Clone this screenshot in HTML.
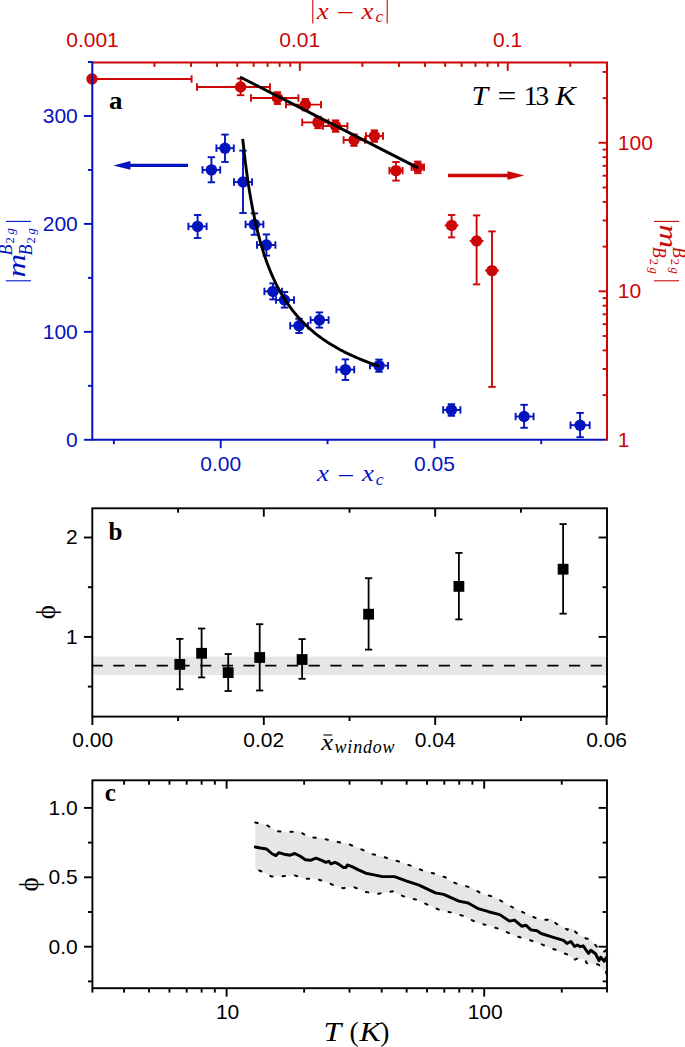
<!DOCTYPE html>
<html lang="en">
<head>
<meta charset="utf-8">
<title>Figure: m_B2g vs x - x_c, phi vs window, phi vs T</title>
<style>
html,body{margin:0;padding:0;background:#fff;}
body{width:685px;height:1047px;overflow:hidden;}
svg{display:block;}
text{white-space:pre;}
</style>
</head>
<body>
<svg width="685" height="1047" viewBox="0 0 685 1047">
<rect x="0" y="0" width="685" height="1047" fill="#fff"/>
<g id="panel-a">
<line x1="92" y1="79" x2="191.6" y2="79" stroke="#CC0606" stroke-width="1.9"/>
<line x1="92" y1="75.3" x2="92" y2="82.7" stroke="#CC0606" stroke-width="1.9"/>
<line x1="191.6" y1="75.3" x2="191.6" y2="82.7" stroke="#CC0606" stroke-width="1.9"/>
<circle cx="92" cy="79" r="5.7" fill="#CC0606"/>
<line x1="197" y1="87" x2="270" y2="87" stroke="#CC0606" stroke-width="1.9"/>
<line x1="197" y1="83.3" x2="197" y2="90.7" stroke="#CC0606" stroke-width="1.9"/>
<line x1="270" y1="83.3" x2="270" y2="90.7" stroke="#CC0606" stroke-width="1.9"/>
<line x1="240.6" y1="78.6" x2="240.6" y2="95.2" stroke="#CC0606" stroke-width="1.9"/>
<line x1="236.9" y1="78.6" x2="244.3" y2="78.6" stroke="#CC0606" stroke-width="1.9"/>
<line x1="236.9" y1="95.2" x2="244.3" y2="95.2" stroke="#CC0606" stroke-width="1.9"/>
<circle cx="240.6" cy="87" r="5.7" fill="#CC0606"/>
<line x1="251" y1="98" x2="298.4" y2="98" stroke="#CC0606" stroke-width="1.9"/>
<line x1="251" y1="94.3" x2="251" y2="101.7" stroke="#CC0606" stroke-width="1.9"/>
<line x1="298.4" y1="94.3" x2="298.4" y2="101.7" stroke="#CC0606" stroke-width="1.9"/>
<line x1="277.4" y1="92.2" x2="277.4" y2="104" stroke="#CC0606" stroke-width="1.9"/>
<line x1="273.7" y1="92.2" x2="281.1" y2="92.2" stroke="#CC0606" stroke-width="1.9"/>
<line x1="273.7" y1="104" x2="281.1" y2="104" stroke="#CC0606" stroke-width="1.9"/>
<circle cx="277.4" cy="98" r="5.7" fill="#CC0606"/>
<line x1="286" y1="104.6" x2="321" y2="104.6" stroke="#CC0606" stroke-width="1.9"/>
<line x1="286" y1="100.9" x2="286" y2="108.3" stroke="#CC0606" stroke-width="1.9"/>
<line x1="321" y1="100.9" x2="321" y2="108.3" stroke="#CC0606" stroke-width="1.9"/>
<line x1="305.4" y1="99" x2="305.4" y2="110.4" stroke="#CC0606" stroke-width="1.9"/>
<line x1="301.7" y1="99" x2="309.1" y2="99" stroke="#CC0606" stroke-width="1.9"/>
<line x1="301.7" y1="110.4" x2="309.1" y2="110.4" stroke="#CC0606" stroke-width="1.9"/>
<circle cx="305.4" cy="104.6" r="5.7" fill="#CC0606"/>
<line x1="302.2" y1="122.4" x2="328.4" y2="122.4" stroke="#CC0606" stroke-width="1.9"/>
<line x1="302.2" y1="118.7" x2="302.2" y2="126.1" stroke="#CC0606" stroke-width="1.9"/>
<line x1="328.4" y1="118.7" x2="328.4" y2="126.1" stroke="#CC0606" stroke-width="1.9"/>
<line x1="318" y1="116.8" x2="318" y2="128.2" stroke="#CC0606" stroke-width="1.9"/>
<line x1="314.3" y1="116.8" x2="321.7" y2="116.8" stroke="#CC0606" stroke-width="1.9"/>
<line x1="314.3" y1="128.2" x2="321.7" y2="128.2" stroke="#CC0606" stroke-width="1.9"/>
<circle cx="318" cy="122.4" r="5.7" fill="#CC0606"/>
<line x1="323" y1="126" x2="347.4" y2="126" stroke="#CC0606" stroke-width="1.9"/>
<line x1="323" y1="122.3" x2="323" y2="129.7" stroke="#CC0606" stroke-width="1.9"/>
<line x1="347.4" y1="122.3" x2="347.4" y2="129.7" stroke="#CC0606" stroke-width="1.9"/>
<line x1="335.6" y1="120.4" x2="335.6" y2="131.8" stroke="#CC0606" stroke-width="1.9"/>
<line x1="331.9" y1="120.4" x2="339.3" y2="120.4" stroke="#CC0606" stroke-width="1.9"/>
<line x1="331.9" y1="131.8" x2="339.3" y2="131.8" stroke="#CC0606" stroke-width="1.9"/>
<circle cx="335.6" cy="126" r="5.7" fill="#CC0606"/>
<line x1="343.6" y1="140" x2="365" y2="140" stroke="#CC0606" stroke-width="1.9"/>
<line x1="343.6" y1="136.3" x2="343.6" y2="143.7" stroke="#CC0606" stroke-width="1.9"/>
<line x1="365" y1="136.3" x2="365" y2="143.7" stroke="#CC0606" stroke-width="1.9"/>
<line x1="354" y1="134.4" x2="354" y2="145.8" stroke="#CC0606" stroke-width="1.9"/>
<line x1="350.3" y1="134.4" x2="357.7" y2="134.4" stroke="#CC0606" stroke-width="1.9"/>
<line x1="350.3" y1="145.8" x2="357.7" y2="145.8" stroke="#CC0606" stroke-width="1.9"/>
<circle cx="354" cy="140" r="5.7" fill="#CC0606"/>
<line x1="366" y1="136" x2="383" y2="136" stroke="#CC0606" stroke-width="1.9"/>
<line x1="366" y1="132.3" x2="366" y2="139.7" stroke="#CC0606" stroke-width="1.9"/>
<line x1="383" y1="132.3" x2="383" y2="139.7" stroke="#CC0606" stroke-width="1.9"/>
<line x1="374.4" y1="130.4" x2="374.4" y2="141.8" stroke="#CC0606" stroke-width="1.9"/>
<line x1="370.7" y1="130.4" x2="378.1" y2="130.4" stroke="#CC0606" stroke-width="1.9"/>
<line x1="370.7" y1="141.8" x2="378.1" y2="141.8" stroke="#CC0606" stroke-width="1.9"/>
<circle cx="374.4" cy="136" r="5.7" fill="#CC0606"/>
<line x1="389.4" y1="170.6" x2="402.6" y2="170.6" stroke="#CC0606" stroke-width="1.9"/>
<line x1="389.4" y1="166.9" x2="389.4" y2="174.3" stroke="#CC0606" stroke-width="1.9"/>
<line x1="402.6" y1="166.9" x2="402.6" y2="174.3" stroke="#CC0606" stroke-width="1.9"/>
<line x1="396" y1="162" x2="396" y2="180.6" stroke="#CC0606" stroke-width="1.9"/>
<line x1="392.3" y1="162" x2="399.7" y2="162" stroke="#CC0606" stroke-width="1.9"/>
<line x1="392.3" y1="180.6" x2="399.7" y2="180.6" stroke="#CC0606" stroke-width="1.9"/>
<circle cx="396" cy="170.6" r="5.7" fill="#CC0606"/>
<line x1="411.6" y1="167.3" x2="424" y2="167.3" stroke="#CC0606" stroke-width="1.9"/>
<line x1="411.6" y1="163.6" x2="411.6" y2="171" stroke="#CC0606" stroke-width="1.9"/>
<line x1="424" y1="163.6" x2="424" y2="171" stroke="#CC0606" stroke-width="1.9"/>
<line x1="417.8" y1="161.6" x2="417.8" y2="173.2" stroke="#CC0606" stroke-width="1.9"/>
<line x1="414.1" y1="161.6" x2="421.5" y2="161.6" stroke="#CC0606" stroke-width="1.9"/>
<line x1="414.1" y1="173.2" x2="421.5" y2="173.2" stroke="#CC0606" stroke-width="1.9"/>
<circle cx="417.8" cy="167.3" r="5.7" fill="#CC0606"/>
<line x1="444.7" y1="225.4" x2="458.5" y2="225.4" stroke="#CC0606" stroke-width="1.9"/>
<line x1="451.6" y1="215" x2="451.6" y2="237.4" stroke="#CC0606" stroke-width="1.9"/>
<line x1="447.9" y1="215" x2="455.3" y2="215" stroke="#CC0606" stroke-width="1.9"/>
<line x1="447.9" y1="237.4" x2="455.3" y2="237.4" stroke="#CC0606" stroke-width="1.9"/>
<circle cx="451.6" cy="225.4" r="5.7" fill="#CC0606"/>
<line x1="469.7" y1="241" x2="483.5" y2="241" stroke="#CC0606" stroke-width="1.9"/>
<line x1="476.6" y1="215.4" x2="476.6" y2="284.4" stroke="#CC0606" stroke-width="1.9"/>
<line x1="472.9" y1="215.4" x2="480.3" y2="215.4" stroke="#CC0606" stroke-width="1.9"/>
<line x1="472.9" y1="284.4" x2="480.3" y2="284.4" stroke="#CC0606" stroke-width="1.9"/>
<circle cx="476.6" cy="241" r="5.7" fill="#CC0606"/>
<line x1="485.1" y1="270.6" x2="498.9" y2="270.6" stroke="#CC0606" stroke-width="1.9"/>
<line x1="492" y1="231.4" x2="492" y2="386.9" stroke="#CC0606" stroke-width="1.9"/>
<line x1="488.3" y1="231.4" x2="495.7" y2="231.4" stroke="#CC0606" stroke-width="1.9"/>
<line x1="488.3" y1="386.9" x2="495.7" y2="386.9" stroke="#CC0606" stroke-width="1.9"/>
<circle cx="492" cy="270.6" r="5.7" fill="#CC0606"/>
<line x1="188.4" y1="226.4" x2="206.6" y2="226.4" stroke="#0314BE" stroke-width="1.9"/>
<line x1="188.4" y1="222.7" x2="188.4" y2="230.1" stroke="#0314BE" stroke-width="1.9"/>
<line x1="206.6" y1="222.7" x2="206.6" y2="230.1" stroke="#0314BE" stroke-width="1.9"/>
<line x1="197.6" y1="215" x2="197.6" y2="238" stroke="#0314BE" stroke-width="1.9"/>
<line x1="193.9" y1="215" x2="201.3" y2="215" stroke="#0314BE" stroke-width="1.9"/>
<line x1="193.9" y1="238" x2="201.3" y2="238" stroke="#0314BE" stroke-width="1.9"/>
<circle cx="197.6" cy="226.4" r="5.7" fill="#0314BE"/>
<line x1="202.5" y1="169.9" x2="220.2" y2="169.9" stroke="#0314BE" stroke-width="1.9"/>
<line x1="202.5" y1="166.2" x2="202.5" y2="173.6" stroke="#0314BE" stroke-width="1.9"/>
<line x1="220.2" y1="166.2" x2="220.2" y2="173.6" stroke="#0314BE" stroke-width="1.9"/>
<line x1="211.4" y1="157.2" x2="211.4" y2="182.3" stroke="#0314BE" stroke-width="1.9"/>
<line x1="207.7" y1="157.2" x2="215.1" y2="157.2" stroke="#0314BE" stroke-width="1.9"/>
<line x1="207.7" y1="182.3" x2="215.1" y2="182.3" stroke="#0314BE" stroke-width="1.9"/>
<circle cx="211.4" cy="169.9" r="5.7" fill="#0314BE"/>
<line x1="216.4" y1="148.2" x2="233.8" y2="148.2" stroke="#0314BE" stroke-width="1.9"/>
<line x1="216.4" y1="144.5" x2="216.4" y2="151.9" stroke="#0314BE" stroke-width="1.9"/>
<line x1="233.8" y1="144.5" x2="233.8" y2="151.9" stroke="#0314BE" stroke-width="1.9"/>
<line x1="225" y1="134.6" x2="225" y2="162" stroke="#0314BE" stroke-width="1.9"/>
<line x1="221.3" y1="134.6" x2="228.7" y2="134.6" stroke="#0314BE" stroke-width="1.9"/>
<line x1="221.3" y1="162" x2="228.7" y2="162" stroke="#0314BE" stroke-width="1.9"/>
<circle cx="225" cy="148.2" r="5.7" fill="#0314BE"/>
<line x1="234" y1="182" x2="252" y2="182" stroke="#0314BE" stroke-width="1.9"/>
<line x1="234" y1="178.3" x2="234" y2="185.7" stroke="#0314BE" stroke-width="1.9"/>
<line x1="252" y1="178.3" x2="252" y2="185.7" stroke="#0314BE" stroke-width="1.9"/>
<line x1="243" y1="150.6" x2="243" y2="213" stroke="#0314BE" stroke-width="1.9"/>
<line x1="239.3" y1="150.6" x2="246.7" y2="150.6" stroke="#0314BE" stroke-width="1.9"/>
<line x1="239.3" y1="213" x2="246.7" y2="213" stroke="#0314BE" stroke-width="1.9"/>
<circle cx="243" cy="182" r="5.7" fill="#0314BE"/>
<line x1="245.6" y1="224.4" x2="263.4" y2="224.4" stroke="#0314BE" stroke-width="1.9"/>
<line x1="245.6" y1="220.7" x2="245.6" y2="228.1" stroke="#0314BE" stroke-width="1.9"/>
<line x1="263.4" y1="220.7" x2="263.4" y2="228.1" stroke="#0314BE" stroke-width="1.9"/>
<line x1="254.4" y1="213.4" x2="254.4" y2="234.8" stroke="#0314BE" stroke-width="1.9"/>
<line x1="250.7" y1="213.4" x2="258.1" y2="213.4" stroke="#0314BE" stroke-width="1.9"/>
<line x1="250.7" y1="234.8" x2="258.1" y2="234.8" stroke="#0314BE" stroke-width="1.9"/>
<circle cx="254.4" cy="224.4" r="5.7" fill="#0314BE"/>
<line x1="257" y1="245" x2="275.4" y2="245" stroke="#0314BE" stroke-width="1.9"/>
<line x1="257" y1="241.3" x2="257" y2="248.7" stroke="#0314BE" stroke-width="1.9"/>
<line x1="275.4" y1="241.3" x2="275.4" y2="248.7" stroke="#0314BE" stroke-width="1.9"/>
<line x1="266.4" y1="234.4" x2="266.4" y2="255.6" stroke="#0314BE" stroke-width="1.9"/>
<line x1="262.7" y1="234.4" x2="270.1" y2="234.4" stroke="#0314BE" stroke-width="1.9"/>
<line x1="262.7" y1="255.6" x2="270.1" y2="255.6" stroke="#0314BE" stroke-width="1.9"/>
<circle cx="266.4" cy="245" r="5.7" fill="#0314BE"/>
<line x1="264.4" y1="291.4" x2="282" y2="291.4" stroke="#0314BE" stroke-width="1.9"/>
<line x1="264.4" y1="287.7" x2="264.4" y2="295.1" stroke="#0314BE" stroke-width="1.9"/>
<line x1="282" y1="287.7" x2="282" y2="295.1" stroke="#0314BE" stroke-width="1.9"/>
<line x1="273" y1="283.4" x2="273" y2="299.4" stroke="#0314BE" stroke-width="1.9"/>
<line x1="269.3" y1="283.4" x2="276.7" y2="283.4" stroke="#0314BE" stroke-width="1.9"/>
<line x1="269.3" y1="299.4" x2="276.7" y2="299.4" stroke="#0314BE" stroke-width="1.9"/>
<circle cx="273" cy="291.4" r="5.7" fill="#0314BE"/>
<line x1="276" y1="300" x2="294" y2="300" stroke="#0314BE" stroke-width="1.9"/>
<line x1="276" y1="296.3" x2="276" y2="303.7" stroke="#0314BE" stroke-width="1.9"/>
<line x1="294" y1="296.3" x2="294" y2="303.7" stroke="#0314BE" stroke-width="1.9"/>
<line x1="284.5" y1="292" x2="284.5" y2="307.6" stroke="#0314BE" stroke-width="1.9"/>
<line x1="280.8" y1="292" x2="288.2" y2="292" stroke="#0314BE" stroke-width="1.9"/>
<line x1="280.8" y1="307.6" x2="288.2" y2="307.6" stroke="#0314BE" stroke-width="1.9"/>
<circle cx="284.5" cy="300" r="5.7" fill="#0314BE"/>
<line x1="290.2" y1="325.7" x2="308" y2="325.7" stroke="#0314BE" stroke-width="1.9"/>
<line x1="290.2" y1="322" x2="290.2" y2="329.4" stroke="#0314BE" stroke-width="1.9"/>
<line x1="308" y1="322" x2="308" y2="329.4" stroke="#0314BE" stroke-width="1.9"/>
<line x1="299" y1="318.8" x2="299" y2="333" stroke="#0314BE" stroke-width="1.9"/>
<line x1="295.3" y1="318.8" x2="302.7" y2="318.8" stroke="#0314BE" stroke-width="1.9"/>
<line x1="295.3" y1="333" x2="302.7" y2="333" stroke="#0314BE" stroke-width="1.9"/>
<circle cx="299" cy="325.7" r="5.7" fill="#0314BE"/>
<line x1="310.6" y1="320" x2="328.6" y2="320" stroke="#0314BE" stroke-width="1.9"/>
<line x1="310.6" y1="316.3" x2="310.6" y2="323.7" stroke="#0314BE" stroke-width="1.9"/>
<line x1="328.6" y1="316.3" x2="328.6" y2="323.7" stroke="#0314BE" stroke-width="1.9"/>
<line x1="319.4" y1="312.4" x2="319.4" y2="327.6" stroke="#0314BE" stroke-width="1.9"/>
<line x1="315.7" y1="312.4" x2="323.1" y2="312.4" stroke="#0314BE" stroke-width="1.9"/>
<line x1="315.7" y1="327.6" x2="323.1" y2="327.6" stroke="#0314BE" stroke-width="1.9"/>
<circle cx="319.4" cy="320" r="5.7" fill="#0314BE"/>
<line x1="336.4" y1="369.6" x2="354.2" y2="369.6" stroke="#0314BE" stroke-width="1.9"/>
<line x1="336.4" y1="365.9" x2="336.4" y2="373.3" stroke="#0314BE" stroke-width="1.9"/>
<line x1="354.2" y1="365.9" x2="354.2" y2="373.3" stroke="#0314BE" stroke-width="1.9"/>
<line x1="345.4" y1="359.4" x2="345.4" y2="380" stroke="#0314BE" stroke-width="1.9"/>
<line x1="341.7" y1="359.4" x2="349.1" y2="359.4" stroke="#0314BE" stroke-width="1.9"/>
<line x1="341.7" y1="380" x2="349.1" y2="380" stroke="#0314BE" stroke-width="1.9"/>
<circle cx="345.4" cy="369.6" r="5.7" fill="#0314BE"/>
<line x1="370" y1="365.6" x2="388" y2="365.6" stroke="#0314BE" stroke-width="1.9"/>
<line x1="370" y1="361.9" x2="370" y2="369.3" stroke="#0314BE" stroke-width="1.9"/>
<line x1="388" y1="361.9" x2="388" y2="369.3" stroke="#0314BE" stroke-width="1.9"/>
<line x1="379" y1="359.6" x2="379" y2="371.8" stroke="#0314BE" stroke-width="1.9"/>
<line x1="375.3" y1="359.6" x2="382.7" y2="359.6" stroke="#0314BE" stroke-width="1.9"/>
<line x1="375.3" y1="371.8" x2="382.7" y2="371.8" stroke="#0314BE" stroke-width="1.9"/>
<circle cx="379" cy="365.6" r="5.7" fill="#0314BE"/>
<line x1="443.2" y1="409.9" x2="460.4" y2="409.9" stroke="#0314BE" stroke-width="1.9"/>
<line x1="443.2" y1="406.2" x2="443.2" y2="413.6" stroke="#0314BE" stroke-width="1.9"/>
<line x1="460.4" y1="406.2" x2="460.4" y2="413.6" stroke="#0314BE" stroke-width="1.9"/>
<line x1="451.4" y1="404.2" x2="451.4" y2="415.8" stroke="#0314BE" stroke-width="1.9"/>
<line x1="447.7" y1="404.2" x2="455.1" y2="404.2" stroke="#0314BE" stroke-width="1.9"/>
<line x1="447.7" y1="415.8" x2="455.1" y2="415.8" stroke="#0314BE" stroke-width="1.9"/>
<circle cx="451.4" cy="409.9" r="5.7" fill="#0314BE"/>
<line x1="515.6" y1="416.5" x2="533.6" y2="416.5" stroke="#0314BE" stroke-width="1.9"/>
<line x1="515.6" y1="412.8" x2="515.6" y2="420.2" stroke="#0314BE" stroke-width="1.9"/>
<line x1="533.6" y1="412.8" x2="533.6" y2="420.2" stroke="#0314BE" stroke-width="1.9"/>
<line x1="524.1" y1="404.8" x2="524.1" y2="427.8" stroke="#0314BE" stroke-width="1.9"/>
<line x1="520.4" y1="404.8" x2="527.8" y2="404.8" stroke="#0314BE" stroke-width="1.9"/>
<line x1="520.4" y1="427.8" x2="527.8" y2="427.8" stroke="#0314BE" stroke-width="1.9"/>
<circle cx="524.1" cy="416.5" r="5.7" fill="#0314BE"/>
<line x1="570.5" y1="425.2" x2="589.7" y2="425.2" stroke="#0314BE" stroke-width="1.9"/>
<line x1="570.5" y1="421.5" x2="570.5" y2="428.9" stroke="#0314BE" stroke-width="1.9"/>
<line x1="589.7" y1="421.5" x2="589.7" y2="428.9" stroke="#0314BE" stroke-width="1.9"/>
<line x1="580.1" y1="412.9" x2="580.1" y2="437.2" stroke="#0314BE" stroke-width="1.9"/>
<line x1="576.4" y1="412.9" x2="583.8" y2="412.9" stroke="#0314BE" stroke-width="1.9"/>
<line x1="576.4" y1="437.2" x2="583.8" y2="437.2" stroke="#0314BE" stroke-width="1.9"/>
<circle cx="580.1" cy="425.2" r="5.7" fill="#0314BE"/>
<polyline fill="none" stroke="#000" stroke-width="2.9" stroke-linecap="butt" stroke-linejoin="round" points="242.71,138.86 243.99,150.76 245.28,161.6 246.56,171.51 247.84,180.61 249.12,189 250.4,196.77 251.69,203.98 252.97,210.7 254.25,216.98 255.53,222.86 256.82,228.38 258.1,233.57 259.38,238.47 260.66,243.1 261.94,247.47 263.23,251.63 264.51,255.57 265.79,259.32 267.07,262.89 268.36,266.3 269.64,269.55 270.92,272.67 272.2,275.64 273.48,278.5 274.77,281.23 276.05,283.86 277.33,286.39 278.61,288.82 279.89,291.16 281.18,293.41 282.46,295.58 283.74,297.68 285.02,299.71 286.31,301.66 287.59,303.56 288.87,305.39 290.15,307.16 291.43,308.88 292.72,310.55 294,312.16 295.28,313.73 296.56,315.26 297.85,316.73 299.13,318.17 300.41,319.57 301.69,320.93 302.97,322.25 304.26,323.54 305.54,324.8 306.82,326.02 308.1,327.22 309.39,328.38 310.67,329.51 311.95,330.62 313.23,331.7 314.51,332.76 315.8,333.79 317.08,334.79 318.36,335.78 319.64,336.74 320.93,337.68 322.21,338.61 323.49,339.51 324.77,340.39 326.05,341.25 327.34,342.1 328.62,342.93 329.9,343.74 331.18,344.54 332.47,345.32 333.75,346.08 335.03,346.83 336.31,347.57 337.59,348.29 338.88,349 340.16,349.7 341.44,350.38 342.72,351.05 344,351.71 345.29,352.36 346.57,352.99 347.85,353.62 349.13,354.23 350.42,354.84 351.7,355.43 352.98,356.02 354.26,356.59 355.54,357.15 356.83,357.71 358.11,358.26 359.39,358.8 360.67,359.33 361.96,359.85 363.24,360.36 364.52,360.87 365.8,361.36 367.08,361.85 368.37,362.34 369.65,362.81 370.93,363.28 372.21,363.75 373.5,364.2 374.78,364.65 376.06,365.09 377.34,365.53 378.62,365.96 379.05,366.1"/>
<line x1="240" y1="77" x2="418" y2="167.9" stroke="#000000" stroke-width="2.9"/>
<line x1="188" y1="165.4" x2="128.7" y2="165.4" stroke="#0314BE" stroke-width="3.3"/>
<path d="M113.4 165.4 L130.4 161.1 L130.4 169.7 Z" fill="#0314BE"/>
<line x1="448" y1="175.5" x2="509.1" y2="175.5" stroke="#CC0606" stroke-width="3.3"/>
<path d="M524.4 175.5 L507.4 171.2 L507.4 179.8 Z" fill="#CC0606"/>
<line x1="92.3" y1="62.5" x2="608" y2="62.5" stroke="#CC0606" stroke-width="2"/>
<line x1="607" y1="62.5" x2="607" y2="440.8" stroke="#CC0606" stroke-width="2"/>
<line x1="91.3" y1="439.8" x2="606" y2="439.8" stroke="#0314BE" stroke-width="2"/>
<line x1="92.3" y1="61.5" x2="92.3" y2="439.8" stroke="#0314BE" stroke-width="2"/>
<line x1="83.9" y1="439.8" x2="92.3" y2="439.8" stroke="#0314BE" stroke-width="1.9"/>
<text x="77.8" y="446.7" fill="#0314BE" font-size="21" font-family='"Liberation Sans", sans-serif' text-anchor="end">0</text>
<line x1="87.9" y1="385.83" x2="92.3" y2="385.83" stroke="#0314BE" stroke-width="1.9"/>
<line x1="83.9" y1="331.85" x2="92.3" y2="331.85" stroke="#0314BE" stroke-width="1.9"/>
<text x="77.8" y="338.75" fill="#0314BE" font-size="21" font-family='"Liberation Sans", sans-serif' text-anchor="end">100</text>
<line x1="87.9" y1="277.88" x2="92.3" y2="277.88" stroke="#0314BE" stroke-width="1.9"/>
<line x1="83.9" y1="223.9" x2="92.3" y2="223.9" stroke="#0314BE" stroke-width="1.9"/>
<text x="77.8" y="230.8" fill="#0314BE" font-size="21" font-family='"Liberation Sans", sans-serif' text-anchor="end">200</text>
<line x1="87.9" y1="169.93" x2="92.3" y2="169.93" stroke="#0314BE" stroke-width="1.9"/>
<line x1="83.9" y1="115.95" x2="92.3" y2="115.95" stroke="#0314BE" stroke-width="1.9"/>
<text x="77.8" y="122.85" fill="#0314BE" font-size="21" font-family='"Liberation Sans", sans-serif' text-anchor="end">300</text>
<line x1="87.9" y1="61.98" x2="92.3" y2="61.98" stroke="#0314BE" stroke-width="1.9"/>
<line x1="113.85" y1="439.8" x2="113.85" y2="444.2" stroke="#0314BE" stroke-width="1.9"/>
<line x1="220.7" y1="439.8" x2="220.7" y2="448.2" stroke="#0314BE" stroke-width="1.9"/>
<text x="220.7" y="471" fill="#0314BE" font-size="21" font-family='"Liberation Sans", sans-serif' text-anchor="middle">0.00</text>
<line x1="327.55" y1="439.8" x2="327.55" y2="444.2" stroke="#0314BE" stroke-width="1.9"/>
<line x1="434.4" y1="439.8" x2="434.4" y2="448.2" stroke="#0314BE" stroke-width="1.9"/>
<text x="434.4" y="471" fill="#0314BE" font-size="21" font-family='"Liberation Sans", sans-serif' text-anchor="middle">0.05</text>
<line x1="541.25" y1="439.8" x2="541.25" y2="444.2" stroke="#0314BE" stroke-width="1.9"/>
<text x="92.5" y="47" fill="#CC0606" font-size="21" font-family='"Liberation Sans", sans-serif' text-anchor="middle">0.001</text>
<line x1="154.48" y1="62.5" x2="154.48" y2="66.9" stroke="#CC0606" stroke-width="1.9"/>
<line x1="191.09" y1="62.5" x2="191.09" y2="66.9" stroke="#CC0606" stroke-width="1.9"/>
<line x1="217.07" y1="62.5" x2="217.07" y2="66.9" stroke="#CC0606" stroke-width="1.9"/>
<line x1="237.22" y1="62.5" x2="237.22" y2="66.9" stroke="#CC0606" stroke-width="1.9"/>
<line x1="253.68" y1="62.5" x2="253.68" y2="66.9" stroke="#CC0606" stroke-width="1.9"/>
<line x1="267.6" y1="62.5" x2="267.6" y2="66.9" stroke="#CC0606" stroke-width="1.9"/>
<line x1="279.65" y1="62.5" x2="279.65" y2="66.9" stroke="#CC0606" stroke-width="1.9"/>
<line x1="290.29" y1="62.5" x2="290.29" y2="66.9" stroke="#CC0606" stroke-width="1.9"/>
<line x1="299.8" y1="62.5" x2="299.8" y2="70.9" stroke="#CC0606" stroke-width="1.9"/>
<text x="299.8" y="47" fill="#CC0606" font-size="21" font-family='"Liberation Sans", sans-serif' text-anchor="middle">0.01</text>
<line x1="362.38" y1="62.5" x2="362.38" y2="66.9" stroke="#CC0606" stroke-width="1.9"/>
<line x1="398.99" y1="62.5" x2="398.99" y2="66.9" stroke="#CC0606" stroke-width="1.9"/>
<line x1="424.97" y1="62.5" x2="424.97" y2="66.9" stroke="#CC0606" stroke-width="1.9"/>
<line x1="445.12" y1="62.5" x2="445.12" y2="66.9" stroke="#CC0606" stroke-width="1.9"/>
<line x1="461.58" y1="62.5" x2="461.58" y2="66.9" stroke="#CC0606" stroke-width="1.9"/>
<line x1="475.5" y1="62.5" x2="475.5" y2="66.9" stroke="#CC0606" stroke-width="1.9"/>
<line x1="487.55" y1="62.5" x2="487.55" y2="66.9" stroke="#CC0606" stroke-width="1.9"/>
<line x1="498.19" y1="62.5" x2="498.19" y2="66.9" stroke="#CC0606" stroke-width="1.9"/>
<line x1="507.7" y1="62.5" x2="507.7" y2="70.9" stroke="#CC0606" stroke-width="1.9"/>
<text x="507.7" y="47" fill="#CC0606" font-size="21" font-family='"Liberation Sans", sans-serif' text-anchor="middle">0.1</text>
<line x1="570.28" y1="62.5" x2="570.28" y2="66.9" stroke="#CC0606" stroke-width="1.9"/>
<line x1="606.89" y1="62.5" x2="606.89" y2="66.9" stroke="#CC0606" stroke-width="1.9"/>
<text x="617.8" y="446.7" fill="#CC0606" font-size="21" font-family='"Liberation Sans", sans-serif' text-anchor="start">1</text>
<line x1="602.6" y1="395.1" x2="607" y2="395.1" stroke="#CC0606" stroke-width="1.9"/>
<line x1="602.6" y1="368.95" x2="607" y2="368.95" stroke="#CC0606" stroke-width="1.9"/>
<line x1="602.6" y1="350.39" x2="607" y2="350.39" stroke="#CC0606" stroke-width="1.9"/>
<line x1="602.6" y1="336" x2="607" y2="336" stroke="#CC0606" stroke-width="1.9"/>
<line x1="602.6" y1="324.24" x2="607" y2="324.24" stroke="#CC0606" stroke-width="1.9"/>
<line x1="602.6" y1="314.3" x2="607" y2="314.3" stroke="#CC0606" stroke-width="1.9"/>
<line x1="602.6" y1="305.69" x2="607" y2="305.69" stroke="#CC0606" stroke-width="1.9"/>
<line x1="602.6" y1="298.09" x2="607" y2="298.09" stroke="#CC0606" stroke-width="1.9"/>
<line x1="598.6" y1="291.3" x2="607" y2="291.3" stroke="#CC0606" stroke-width="1.9"/>
<text x="617.8" y="298.2" fill="#CC0606" font-size="21" font-family='"Liberation Sans", sans-serif' text-anchor="start">10</text>
<line x1="602.6" y1="246.6" x2="607" y2="246.6" stroke="#CC0606" stroke-width="1.9"/>
<line x1="602.6" y1="220.45" x2="607" y2="220.45" stroke="#CC0606" stroke-width="1.9"/>
<line x1="602.6" y1="201.89" x2="607" y2="201.89" stroke="#CC0606" stroke-width="1.9"/>
<line x1="602.6" y1="187.5" x2="607" y2="187.5" stroke="#CC0606" stroke-width="1.9"/>
<line x1="602.6" y1="175.74" x2="607" y2="175.74" stroke="#CC0606" stroke-width="1.9"/>
<line x1="602.6" y1="165.8" x2="607" y2="165.8" stroke="#CC0606" stroke-width="1.9"/>
<line x1="602.6" y1="157.19" x2="607" y2="157.19" stroke="#CC0606" stroke-width="1.9"/>
<line x1="602.6" y1="149.59" x2="607" y2="149.59" stroke="#CC0606" stroke-width="1.9"/>
<line x1="598.6" y1="142.8" x2="607" y2="142.8" stroke="#CC0606" stroke-width="1.9"/>
<text x="617.8" y="149.7" fill="#CC0606" font-size="21" font-family='"Liberation Sans", sans-serif' text-anchor="start">100</text>
<line x1="602.6" y1="98.1" x2="607" y2="98.1" stroke="#CC0606" stroke-width="1.9"/>
<line x1="602.6" y1="71.95" x2="607" y2="71.95" stroke="#CC0606" stroke-width="1.9"/>
<line x1="312.8" y1="-1.2" x2="312.8" y2="23.6" stroke="#CC0606" stroke-width="1.1"/>
<line x1="387.2" y1="-1.2" x2="387.2" y2="23.6" stroke="#CC0606" stroke-width="1.1"/>
<text x="0" y="0" fill="#CC0606" font-size="24" font-family='"Liberation Serif", serif' text-anchor="start" style="font-style:italic" transform="translate(316.7 18.7) scale(1.12 1)">x</text>
<text x="0" y="0" fill="#CC0606" font-size="25" font-family='"Liberation Serif", serif' text-anchor="middle" transform="translate(345.4 21.3) scale(1.22 1)">−</text>
<text x="0" y="0" fill="#CC0606" font-size="24" font-family='"Liberation Serif", serif' text-anchor="start" style="font-style:italic" transform="translate(361.5 18.7) scale(1.12 1)">x</text>
<text x="375.4" y="22.2" fill="#CC0606" font-size="17.5" font-family='"Liberation Serif", serif' text-anchor="start" style="font-style:italic">c</text>
<text x="0" y="0" fill="#0314BE" font-size="24" font-family='"Liberation Serif", serif' text-anchor="start" style="font-style:italic" transform="translate(317.1 481.3) scale(1.12 1)">x</text>
<text x="0" y="0" fill="#0314BE" font-size="25" font-family='"Liberation Serif", serif' text-anchor="middle" transform="translate(345.8 483.9) scale(1.22 1)">−</text>
<text x="0" y="0" fill="#0314BE" font-size="24" font-family='"Liberation Serif", serif' text-anchor="start" style="font-style:italic" transform="translate(361.9 481.3) scale(1.12 1)">x</text>
<text x="375.8" y="484.8" fill="#0314BE" font-size="17.5" font-family='"Liberation Serif", serif' text-anchor="start" style="font-style:italic">c</text>
<text x="0" y="0" fill="#000000" font-size="24.5" font-family='"Liberation Serif", serif' text-anchor="start" style="font-weight:bold" transform="translate(109 108.6) scale(1.1 1)">a</text>
<text x="0" y="0" fill="#000000" font-size="27.2" font-family='"Liberation Serif", serif' text-anchor="start" style="font-style:italic" transform="translate(471.4 105) scale(1.1 1)">T</text>
<text x="0" y="0" fill="#000000" font-size="27.5" font-family='"Liberation Serif", serif' text-anchor="middle" transform="translate(507 105.2) scale(1.22 1)">=</text>
<text x="0" y="0" fill="#000000" font-size="27.2" font-family='"Liberation Serif", serif' text-anchor="start" transform="translate(523.6 105) scale(1.05 1)">1</text>
<text x="535.6" y="105" fill="#000000" font-size="27.2" font-family='"Liberation Serif", serif' text-anchor="start">3</text>
<text x="0" y="0" fill="#000000" font-size="27.2" font-family='"Liberation Serif", serif' text-anchor="start" style="font-style:italic" transform="translate(555.2 105) scale(1.13 1)">K</text>
<g transform="translate(25.4 280.8) rotate(-90)">
<line x1="0" y1="-19.5" x2="0" y2="5.6" stroke="#0314BE" stroke-width="1.1"/>
<line x1="59.4" y1="-19.5" x2="59.4" y2="5.6" stroke="#0314BE" stroke-width="1.1"/>
<text x="0" y="0" fill="#0314BE" font-size="26" font-family='"Liberation Serif", serif' text-anchor="start" style="font-style:italic" transform="translate(3.2 0) scale(1.26 1)">m</text>
<text x="25.4" y="-13.5" fill="#0314BE" font-size="18" font-family='"Liberation Serif", serif' text-anchor="start" style="font-style:italic">B</text>
<text x="37.4" y="-11" fill="#0314BE" font-size="12.5" font-family='"Liberation Serif", serif' text-anchor="start">2</text>
<text x="46.2" y="-11" fill="#0314BE" font-size="12.5" font-family='"Liberation Serif", serif' text-anchor="start" style="font-style:italic">g</text>
<text x="25.4" y="6.8" fill="#0314BE" font-size="18" font-family='"Liberation Serif", serif' text-anchor="start" style="font-style:italic">B</text>
<text x="37.4" y="9.2" fill="#0314BE" font-size="12.5" font-family='"Liberation Serif", serif' text-anchor="start">2</text>
<text x="46.2" y="9.2" fill="#0314BE" font-size="12.5" font-family='"Liberation Serif", serif' text-anchor="start" style="font-style:italic">g</text>
</g>
<g transform="translate(659.6 221.4) rotate(90)">
<line x1="0" y1="-19.5" x2="0" y2="5.6" stroke="#CC0606" stroke-width="1.1"/>
<line x1="59.4" y1="-19.5" x2="59.4" y2="5.6" stroke="#CC0606" stroke-width="1.1"/>
<text x="0" y="0" fill="#CC0606" font-size="26" font-family='"Liberation Serif", serif' text-anchor="start" style="font-style:italic" transform="translate(3.2 0) scale(1.26 1)">m</text>
<text x="25.4" y="-13.5" fill="#CC0606" font-size="18" font-family='"Liberation Serif", serif' text-anchor="start" style="font-style:italic">B</text>
<text x="37.4" y="-11" fill="#CC0606" font-size="12.5" font-family='"Liberation Serif", serif' text-anchor="start">2</text>
<text x="46.2" y="-11" fill="#CC0606" font-size="12.5" font-family='"Liberation Serif", serif' text-anchor="start" style="font-style:italic">g</text>
<text x="25.4" y="6.8" fill="#CC0606" font-size="18" font-family='"Liberation Serif", serif' text-anchor="start" style="font-style:italic">B</text>
<text x="37.4" y="9.2" fill="#CC0606" font-size="12.5" font-family='"Liberation Serif", serif' text-anchor="start">2</text>
<text x="46.2" y="9.2" fill="#CC0606" font-size="12.5" font-family='"Liberation Serif", serif' text-anchor="start" style="font-style:italic">g</text>
</g>
</g>
<g id="panel-b">
<rect x="92.3" y="656.6" width="514.7" height="18.5" fill="#E6E6E6"/>
<line x1="91.6" y1="665.6" x2="606" y2="665.6" stroke="#000000" stroke-width="1.9" stroke-dasharray="11.2 10.5"/>
<line x1="179.8" y1="638.9" x2="179.8" y2="689.3" stroke="#000000" stroke-width="1.8"/>
<line x1="176.2" y1="638.9" x2="183.4" y2="638.9" stroke="#000000" stroke-width="1.8"/>
<line x1="176.2" y1="689.3" x2="183.4" y2="689.3" stroke="#000000" stroke-width="1.8"/>
<rect x="174.4" y="659" width="10.8" height="10.8" fill="#000"/>
<line x1="201.6" y1="628.5" x2="201.6" y2="677.4" stroke="#000000" stroke-width="1.8"/>
<line x1="198" y1="628.5" x2="205.2" y2="628.5" stroke="#000000" stroke-width="1.8"/>
<line x1="198" y1="677.4" x2="205.2" y2="677.4" stroke="#000000" stroke-width="1.8"/>
<rect x="196.2" y="647.9" width="10.8" height="10.8" fill="#000"/>
<line x1="228.2" y1="654" x2="228.2" y2="691" stroke="#000000" stroke-width="1.8"/>
<line x1="224.6" y1="654" x2="231.8" y2="654" stroke="#000000" stroke-width="1.8"/>
<line x1="224.6" y1="691" x2="231.8" y2="691" stroke="#000000" stroke-width="1.8"/>
<rect x="222.8" y="667.2" width="10.8" height="10.8" fill="#000"/>
<line x1="259.7" y1="624.2" x2="259.7" y2="690.5" stroke="#000000" stroke-width="1.8"/>
<line x1="256.1" y1="624.2" x2="263.3" y2="624.2" stroke="#000000" stroke-width="1.8"/>
<line x1="256.1" y1="690.5" x2="263.3" y2="690.5" stroke="#000000" stroke-width="1.8"/>
<rect x="254.3" y="652.1" width="10.8" height="10.8" fill="#000"/>
<line x1="302.1" y1="639.1" x2="302.1" y2="678.8" stroke="#000000" stroke-width="1.8"/>
<line x1="298.5" y1="639.1" x2="305.7" y2="639.1" stroke="#000000" stroke-width="1.8"/>
<line x1="298.5" y1="678.8" x2="305.7" y2="678.8" stroke="#000000" stroke-width="1.8"/>
<rect x="296.7" y="654.1" width="10.8" height="10.8" fill="#000"/>
<line x1="368.6" y1="578.2" x2="368.6" y2="649.6" stroke="#000000" stroke-width="1.8"/>
<line x1="365" y1="578.2" x2="372.2" y2="578.2" stroke="#000000" stroke-width="1.8"/>
<line x1="365" y1="649.6" x2="372.2" y2="649.6" stroke="#000000" stroke-width="1.8"/>
<rect x="363.2" y="608.8" width="10.8" height="10.8" fill="#000"/>
<line x1="458.9" y1="552.9" x2="458.9" y2="619.4" stroke="#000000" stroke-width="1.8"/>
<line x1="455.3" y1="552.9" x2="462.5" y2="552.9" stroke="#000000" stroke-width="1.8"/>
<line x1="455.3" y1="619.4" x2="462.5" y2="619.4" stroke="#000000" stroke-width="1.8"/>
<rect x="453.5" y="581" width="10.8" height="10.8" fill="#000"/>
<line x1="563.1" y1="524.1" x2="563.1" y2="613.7" stroke="#000000" stroke-width="1.8"/>
<line x1="559.5" y1="524.1" x2="566.7" y2="524.1" stroke="#000000" stroke-width="1.8"/>
<line x1="559.5" y1="613.7" x2="566.7" y2="613.7" stroke="#000000" stroke-width="1.8"/>
<rect x="557.7" y="563.8" width="10.8" height="10.8" fill="#000"/>
<rect x="92.3" y="508.3" width="514.7" height="208.3" fill="none" stroke="#000" stroke-width="1.9"/>
<line x1="92.4" y1="716.6" x2="92.4" y2="725" stroke="#000000" stroke-width="1.9"/>
<text x="92.8" y="747.4" fill="#000000" font-size="21" font-family='"Liberation Sans", sans-serif' text-anchor="middle">0.00</text>
<line x1="178.1" y1="716.6" x2="178.1" y2="721" stroke="#000000" stroke-width="1.9"/>
<line x1="178.1" y1="508.3" x2="178.1" y2="512.7" stroke="#000000" stroke-width="1.9"/>
<line x1="263.8" y1="716.6" x2="263.8" y2="725" stroke="#000000" stroke-width="1.9"/>
<line x1="263.8" y1="508.3" x2="263.8" y2="516.7" stroke="#000000" stroke-width="1.9"/>
<text x="263.8" y="747.4" fill="#000000" font-size="21" font-family='"Liberation Sans", sans-serif' text-anchor="middle">0.02</text>
<line x1="349.5" y1="716.6" x2="349.5" y2="721" stroke="#000000" stroke-width="1.9"/>
<line x1="349.5" y1="508.3" x2="349.5" y2="512.7" stroke="#000000" stroke-width="1.9"/>
<line x1="435.2" y1="716.6" x2="435.2" y2="725" stroke="#000000" stroke-width="1.9"/>
<line x1="435.2" y1="508.3" x2="435.2" y2="516.7" stroke="#000000" stroke-width="1.9"/>
<text x="435.2" y="747.4" fill="#000000" font-size="21" font-family='"Liberation Sans", sans-serif' text-anchor="middle">0.04</text>
<line x1="520.9" y1="716.6" x2="520.9" y2="721" stroke="#000000" stroke-width="1.9"/>
<line x1="520.9" y1="508.3" x2="520.9" y2="512.7" stroke="#000000" stroke-width="1.9"/>
<line x1="606.6" y1="716.6" x2="606.6" y2="725" stroke="#000000" stroke-width="1.9"/>
<text x="606.6" y="747.4" fill="#000000" font-size="21" font-family='"Liberation Sans", sans-serif' text-anchor="middle">0.06</text>
<line x1="87.9" y1="686.6" x2="92.3" y2="686.6" stroke="#000000" stroke-width="1.9"/>
<line x1="602.6" y1="686.6" x2="607" y2="686.6" stroke="#000000" stroke-width="1.9"/>
<line x1="83.9" y1="636.9" x2="92.3" y2="636.9" stroke="#000000" stroke-width="1.9"/>
<line x1="598.6" y1="636.9" x2="607" y2="636.9" stroke="#000000" stroke-width="1.9"/>
<text x="77.8" y="643.8" fill="#000000" font-size="21" font-family='"Liberation Sans", sans-serif' text-anchor="end">1</text>
<line x1="87.9" y1="587.2" x2="92.3" y2="587.2" stroke="#000000" stroke-width="1.9"/>
<line x1="602.6" y1="587.2" x2="607" y2="587.2" stroke="#000000" stroke-width="1.9"/>
<line x1="83.9" y1="537.5" x2="92.3" y2="537.5" stroke="#000000" stroke-width="1.9"/>
<line x1="598.6" y1="537.5" x2="607" y2="537.5" stroke="#000000" stroke-width="1.9"/>
<text x="77.8" y="544.4" fill="#000000" font-size="21" font-family='"Liberation Sans", sans-serif' text-anchor="end">2</text>
<text x="108.4" y="540" fill="#000000" font-size="25" font-family='"Liberation Serif", serif' text-anchor="start" style="font-weight:bold">b</text>
<g transform="translate(55.2 612.2) rotate(-90)">
<text x="0" y="0" fill="#000000" font-size="27" font-family='"Liberation Serif", serif' text-anchor="middle">ϕ</text>
</g>
<text x="0" y="0" fill="#000000" font-size="24" font-family='"Liberation Serif", serif' text-anchor="start" style="font-style:italic" transform="translate(321.2 750) scale(1.12 1)">x</text>
<line x1="323.4" y1="735" x2="332.2" y2="735" stroke="#000000" stroke-width="1.1"/>
<text x="334.6" y="753.2" fill="#000000" font-size="18" font-family='"Liberation Serif", serif' text-anchor="start" style="font-style:italic" textLength="59.8" lengthAdjust="spacing">window</text>
</g>
<g id="panel-c">
<polygon fill="#E6E6E6" points="255.3,822.5 266.6,825 275.8,831 287,832 299.3,831.3 308.5,837.2 321.7,838.2 332,840.9 339.1,842.3 348.3,844 360.6,849 372.8,854.2 384.3,857.2 397.6,861.1 409.9,865.4 422.1,870.3 435.4,873.9 445.6,877.4 448.7,880.1 457.9,884.2 471.2,887.6 482.4,894 494.7,897 508.4,905.2 518.6,910.3 527.8,914.6 538,919 547,919.9 550.5,918.1 556.4,923.9 559.9,925.1 567.4,929.8 570.4,926.9 575.6,932.1 578.5,934.5 583.2,936.8 586.1,938.5 589.6,939.1 592,940.9 597.8,947.9 599.6,951.4 604.8,951.4 606.6,949 607,974.8 605.4,970.6 603.1,970.1 600.7,966.6 597.8,964.3 594.3,964 586.7,963.1 585,959.6 577.4,958.4 573.9,960.1 568,954.8 557.5,950.5 547.3,946.7 536,941.9 523.7,938.5 511.5,934.4 501.8,929.7 488.5,925.6 476.3,922.4 465,916.5 452.8,912.8 440.5,910.3 428.2,905 418,900.1 403.7,896.4 392.5,891.3 378.2,893.8 365.7,892 353.4,886.9 343.2,888.3 335,885.8 326.9,882.2 315.6,878.7 304.4,878.7 294.2,875.2 282.9,876.2 271.7,876.6 259.4,870.5 255.3,869.5"/>
<polyline fill="none" stroke="#000" stroke-width="2" stroke-linecap="round" stroke-dasharray="2.4 10" points="255.3,822.5 266.6,825 275.8,831 287,832 299.3,831.3 308.5,837.2 321.7,838.2 332,840.9 339.1,842.3 348.3,844 360.6,849 372.8,854.2 384.3,857.2 397.6,861.1 409.9,865.4 422.1,870.3 435.4,873.9 445.6,877.4 448.7,880.1 457.9,884.2 471.2,887.6 482.4,894 494.7,897 508.4,905.2 518.6,910.3 527.8,914.6 538,919 547,919.9 550.5,918.1 556.4,923.9 559.9,925.1 567.4,929.8 570.4,926.9 575.6,932.1 578.5,934.5 583.2,936.8 586.1,938.5 589.6,939.1 592,940.9 597.8,947.9 599.6,951.4 604.8,951.4 606.6,949"/>
<polyline fill="none" stroke="#000" stroke-width="2" stroke-linecap="round" stroke-dasharray="2.4 10" stroke-dashoffset="-4" points="255.3,869.5 259.4,870.5 271.7,876.6 282.9,876.2 294.2,875.2 304.4,878.7 315.6,878.7 326.9,882.2 335,885.8 343.2,888.3 353.4,886.9 365.7,892 378.2,893.8 392.5,891.3 403.7,896.4 418,900.1 428.2,905 440.5,910.3 452.8,912.8 465,916.5 476.3,922.4 488.5,925.6 501.8,929.7 511.5,934.4 523.7,938.5 536,941.9 547.3,946.7 557.5,950.5 568,954.8 573.9,960.1 577.4,958.4 585,959.6 586.7,963.1 594.3,964 597.8,964.3 600.7,966.6 603.1,970.1 605.4,970.6 607,974.8"/>
<polyline fill="none" stroke="#000" stroke-width="2.95" stroke-linejoin="round" stroke-linecap="round" points="255.3,847 260.4,848 266.6,849 271.7,853.5 275.8,855.6 278.8,852.7 283.9,854.2 290.1,855.2 294.8,853.5 300.3,856.2 305.4,859.7 310.5,860.3 316,858.2 321.7,860.3 325.8,862.3 328.9,861.3 330.9,863.8 335,862.3 339.1,864.4 343.2,867.4 345.9,867.4 347.3,865 351.4,866.4 358.5,869.9 365.7,873.2 372.8,874.6 382.3,876.6 394.5,876.6 406.8,881.1 419,885.2 435.4,892.9 443.6,894.4 458.9,901.1 468.1,903 478.3,908.7 488.5,911.7 499.8,914.6 509.4,921.1 514.5,920.1 521.7,926.2 525.8,925.2 530.9,929.9 537,930.7 541.1,933.5 551.7,936.8 563.4,940.3 566.9,943.4 571,941.5 574.5,946.5 577.4,945 580.3,946.7 583.2,945.8 588.5,953.5 590.8,950.2 595.5,953.7 599,960.5 600.7,957.2 604.2,961.3 606.6,957.2"/>
<rect x="92.4" y="780.3" width="514.6" height="207.9" fill="none" stroke="#000" stroke-width="1.9"/>
<line x1="124.09" y1="988.2" x2="124.09" y2="992.6" stroke="#000000" stroke-width="1.9"/>
<line x1="124.09" y1="780.3" x2="124.09" y2="784.7" stroke="#000000" stroke-width="1.9"/>
<line x1="149.05" y1="988.2" x2="149.05" y2="992.6" stroke="#000000" stroke-width="1.9"/>
<line x1="149.05" y1="780.3" x2="149.05" y2="784.7" stroke="#000000" stroke-width="1.9"/>
<line x1="169.45" y1="988.2" x2="169.45" y2="992.6" stroke="#000000" stroke-width="1.9"/>
<line x1="169.45" y1="780.3" x2="169.45" y2="784.7" stroke="#000000" stroke-width="1.9"/>
<line x1="186.7" y1="988.2" x2="186.7" y2="992.6" stroke="#000000" stroke-width="1.9"/>
<line x1="186.7" y1="780.3" x2="186.7" y2="784.7" stroke="#000000" stroke-width="1.9"/>
<line x1="201.64" y1="988.2" x2="201.64" y2="992.6" stroke="#000000" stroke-width="1.9"/>
<line x1="201.64" y1="780.3" x2="201.64" y2="784.7" stroke="#000000" stroke-width="1.9"/>
<line x1="214.81" y1="988.2" x2="214.81" y2="992.6" stroke="#000000" stroke-width="1.9"/>
<line x1="214.81" y1="780.3" x2="214.81" y2="784.7" stroke="#000000" stroke-width="1.9"/>
<line x1="226.6" y1="988.2" x2="226.6" y2="996.6" stroke="#000000" stroke-width="1.9"/>
<line x1="226.6" y1="780.3" x2="226.6" y2="788.7" stroke="#000000" stroke-width="1.9"/>
<text x="227.6" y="1019.4" fill="#000000" font-size="21" font-family='"Liberation Sans", sans-serif' text-anchor="middle">10</text>
<line x1="304.15" y1="988.2" x2="304.15" y2="992.6" stroke="#000000" stroke-width="1.9"/>
<line x1="304.15" y1="780.3" x2="304.15" y2="784.7" stroke="#000000" stroke-width="1.9"/>
<line x1="349.51" y1="988.2" x2="349.51" y2="992.6" stroke="#000000" stroke-width="1.9"/>
<line x1="349.51" y1="780.3" x2="349.51" y2="784.7" stroke="#000000" stroke-width="1.9"/>
<line x1="381.69" y1="988.2" x2="381.69" y2="992.6" stroke="#000000" stroke-width="1.9"/>
<line x1="381.69" y1="780.3" x2="381.69" y2="784.7" stroke="#000000" stroke-width="1.9"/>
<line x1="406.65" y1="988.2" x2="406.65" y2="992.6" stroke="#000000" stroke-width="1.9"/>
<line x1="406.65" y1="780.3" x2="406.65" y2="784.7" stroke="#000000" stroke-width="1.9"/>
<line x1="427.05" y1="988.2" x2="427.05" y2="992.6" stroke="#000000" stroke-width="1.9"/>
<line x1="427.05" y1="780.3" x2="427.05" y2="784.7" stroke="#000000" stroke-width="1.9"/>
<line x1="444.3" y1="988.2" x2="444.3" y2="992.6" stroke="#000000" stroke-width="1.9"/>
<line x1="444.3" y1="780.3" x2="444.3" y2="784.7" stroke="#000000" stroke-width="1.9"/>
<line x1="459.24" y1="988.2" x2="459.24" y2="992.6" stroke="#000000" stroke-width="1.9"/>
<line x1="459.24" y1="780.3" x2="459.24" y2="784.7" stroke="#000000" stroke-width="1.9"/>
<line x1="472.41" y1="988.2" x2="472.41" y2="992.6" stroke="#000000" stroke-width="1.9"/>
<line x1="472.41" y1="780.3" x2="472.41" y2="784.7" stroke="#000000" stroke-width="1.9"/>
<line x1="484.2" y1="988.2" x2="484.2" y2="996.6" stroke="#000000" stroke-width="1.9"/>
<line x1="484.2" y1="780.3" x2="484.2" y2="788.7" stroke="#000000" stroke-width="1.9"/>
<text x="485.2" y="1019.4" fill="#000000" font-size="21" font-family='"Liberation Sans", sans-serif' text-anchor="middle">100</text>
<line x1="561.75" y1="988.2" x2="561.75" y2="992.6" stroke="#000000" stroke-width="1.9"/>
<line x1="561.75" y1="780.3" x2="561.75" y2="784.7" stroke="#000000" stroke-width="1.9"/>
<line x1="607" y1="988.2" x2="607" y2="992.6" stroke="#000000" stroke-width="1.9"/>
<line x1="92.4" y1="988.2" x2="92.4" y2="992.6" stroke="#000000" stroke-width="1.9"/>
<line x1="88" y1="981.4" x2="92.4" y2="981.4" stroke="#000000" stroke-width="1.9"/>
<line x1="602.6" y1="981.4" x2="607" y2="981.4" stroke="#000000" stroke-width="1.9"/>
<line x1="84" y1="946.7" x2="92.4" y2="946.7" stroke="#000000" stroke-width="1.9"/>
<line x1="598.6" y1="946.7" x2="607" y2="946.7" stroke="#000000" stroke-width="1.9"/>
<text x="77.8" y="953.6" fill="#000000" font-size="21" font-family='"Liberation Sans", sans-serif' text-anchor="end">0.0</text>
<line x1="88" y1="912" x2="92.4" y2="912" stroke="#000000" stroke-width="1.9"/>
<line x1="602.6" y1="912" x2="607" y2="912" stroke="#000000" stroke-width="1.9"/>
<line x1="84" y1="877.3" x2="92.4" y2="877.3" stroke="#000000" stroke-width="1.9"/>
<line x1="598.6" y1="877.3" x2="607" y2="877.3" stroke="#000000" stroke-width="1.9"/>
<text x="77.8" y="884.2" fill="#000000" font-size="21" font-family='"Liberation Sans", sans-serif' text-anchor="end">0.5</text>
<line x1="88" y1="842.6" x2="92.4" y2="842.6" stroke="#000000" stroke-width="1.9"/>
<line x1="602.6" y1="842.6" x2="607" y2="842.6" stroke="#000000" stroke-width="1.9"/>
<line x1="84" y1="807.9" x2="92.4" y2="807.9" stroke="#000000" stroke-width="1.9"/>
<line x1="598.6" y1="807.9" x2="607" y2="807.9" stroke="#000000" stroke-width="1.9"/>
<text x="77.8" y="814.8" fill="#000000" font-size="21" font-family='"Liberation Sans", sans-serif' text-anchor="end">1.0</text>
<text x="104.8" y="801" fill="#000000" font-size="25" font-family='"Liberation Serif", serif' text-anchor="start" style="font-weight:bold">c</text>
<g transform="translate(38 884.3) rotate(-90)">
<text x="0" y="0" fill="#000000" font-size="27" font-family='"Liberation Serif", serif' text-anchor="middle">ϕ</text>
</g>
<text x="0" y="0" fill="#000000" font-size="26.6" font-family='"Liberation Serif", serif' text-anchor="start" style="font-style:italic" transform="translate(323.4 1040.6) scale(1.2 1)">T</text>
<text x="349.6" y="1040.8" fill="#000000" font-size="27.5" font-family='"Liberation Serif", serif' text-anchor="start">(</text>
<text x="0" y="0" fill="#000000" font-size="26.6" font-family='"Liberation Serif", serif' text-anchor="start" style="font-style:italic" transform="translate(359.4 1040.6) scale(1.2 1)">K</text>
<text x="380.2" y="1040.8" fill="#000000" font-size="27.5" font-family='"Liberation Serif", serif' text-anchor="start">)</text>
</g>
</svg>
</body>
</html>
